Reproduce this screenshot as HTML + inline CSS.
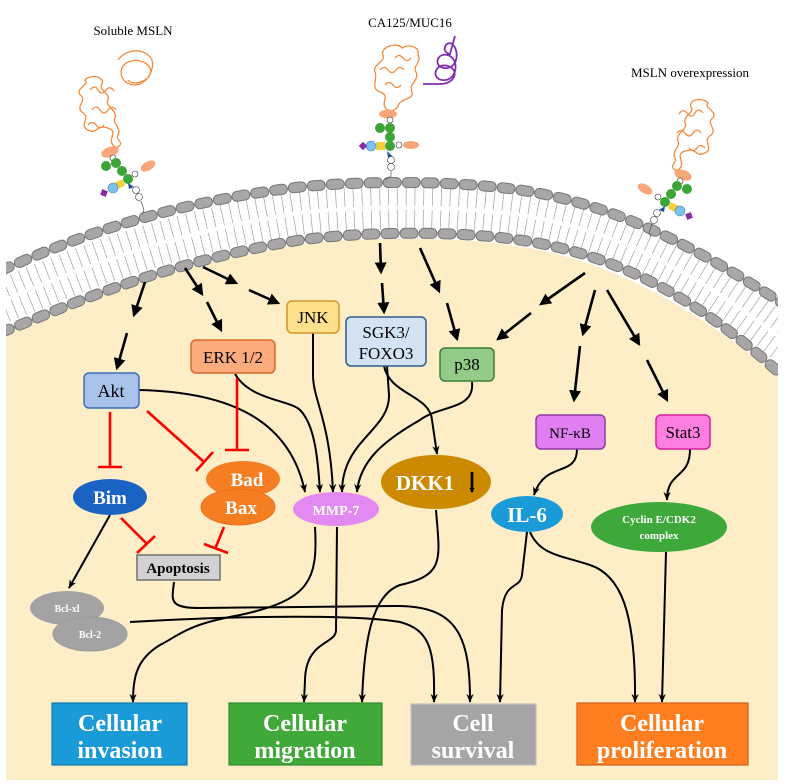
<!DOCTYPE html>
<html><head><meta charset="utf-8"><style>
html,body{margin:0;padding:0;background:#fff;}
svg{display:block;}
text{font-family:"Liberation Serif",serif;}
</style></head><body>
<svg width="795" height="784" viewBox="0 0 795 784" xmlns="http://www.w3.org/2000/svg">
<defs>
<marker id="ah" viewBox="0 0 10 10" refX="8" refY="5" markerWidth="5" markerHeight="5" orient="auto-start-reverse" markerUnits="userSpaceOnUse">
<path d="M0,0 L10,5 L0,10 Z" fill="#000"/></marker>
<marker id="ab" viewBox="0 0 10 10" refX="8" refY="5" markerWidth="12" markerHeight="12" orient="auto" markerUnits="userSpaceOnUse">
<path d="M0,0 L10,5 L0,10 Z" fill="#000"/></marker>
<marker id="as" viewBox="0 0 10 10" refX="9" refY="5" markerWidth="9" markerHeight="9" orient="auto" markerUnits="userSpaceOnUse">
<path d="M0,1 L10,5 L0,9 L3,5 Z" fill="#000"/></marker>
<clipPath id="cl"><rect x="6" y="0" width="772" height="784"/></clipPath>
</defs>

<g clip-path="url(#cl)">
<!-- cream cell -->
<path d="M2,332 C60,310 150,265 300,240 C360,232 450,230 520,240 C620,255 700,300 785,378 L785,780 L2,780 Z" fill="#fdeec8"/>
<!-- membrane band -->
<path d="M2,301 C60,278 150,236 300,213 C360,206 450,205 520,215 C620,230 700,276 785,341" fill="none" stroke="#fff" stroke-width="62"/>
<path d="M2,301 C60,278 150,236 300,213 C360,206 450,205 520,215 C620,230 700,276 785,341" fill="none" stroke="#8a8a8a" stroke-width="44" stroke-dasharray="0.7 8" opacity="0.8"/>
<path d="M2,301 C60,278 150,236 300,213 C360,206 450,205 520,215 C620,230 700,276 785,341" fill="none" stroke="#fff" stroke-width="4"/>
<path d="M2,270 C60,245 150,205 300,187 C360,181 450,180 520,190 C620,205 700,250 785,305" fill="none" stroke="#777" stroke-width="11" stroke-linecap="round" stroke-dasharray="8 11"/>
<path d="M2,270 C60,245 150,205 300,187 C360,181 450,180 520,190 C620,205 700,250 785,305" fill="none" stroke="#a8a6a6" stroke-width="9" stroke-linecap="round" stroke-dasharray="8 11"/>
<path d="M2,332 C60,310 150,265 300,240 C360,232 450,230 520,240 C620,255 700,300 785,378" fill="none" stroke="#777" stroke-width="11" stroke-linecap="round" stroke-dasharray="8 11"/>
<path d="M2,332 C60,310 150,265 300,240 C360,232 450,230 520,240 C620,255 700,300 785,378" fill="none" stroke="#a8a6a6" stroke-width="9" stroke-linecap="round" stroke-dasharray="8 11"/>
</g>

<!-- top labels -->
<text x="133" y="35" font-size="13" text-anchor="middle">Soluble MSLN</text>
<text x="410" y="27" font-size="13" text-anchor="middle">CA125/MUC16</text>
<text x="690" y="77" font-size="13" text-anchor="middle">MSLN overexpression</text>

<!-- Soluble MSLN protein -->
<g fill="none" stroke="#f58a3c" stroke-width="1.3">
<path d="M115,147 C105,140 120,132 108,128 C95,124 98,135 88,130 C78,125 92,118 82,112 C75,106 88,100 80,95 C75,88 90,85 85,80 C90,74 105,76 102,84 C98,90 110,92 108,100 C104,106 118,110 115,118 C112,124 122,128 118,135 C115,140 125,142 118,147 Z"/>
<path d="M90,90 q5,-6 8,0 q3,6 8,0 q4,-5 8,1 M92,110 q4,-6 8,0 q4,6 8,0 q4,-5 8,0 M88,125 q5,-5 8,0 q4,5 8,0"/>
<path d="M118,60 C125,50 140,48 148,55 C158,62 150,80 140,84 C128,88 118,78 122,68 C126,58 145,58 150,68 C155,78 135,88 128,80"/>
</g>
<ellipse cx="110" cy="152" rx="9" ry="5" fill="#f7a77a" transform="rotate(-20 110 152)"/>
<circle cx="113" cy="158" r="3" fill="#fff" stroke="#333" stroke-width=".6"/>
<circle cx="106" cy="166" r="5" fill="#3da538"/><circle cx="116" cy="163" r="5" fill="#3da538"/>
<circle cx="122" cy="171" r="5" fill="#3da538"/><circle cx="128" cy="179" r="5" fill="#3da538"/>
<ellipse cx="148" cy="166" rx="8" ry="4.5" fill="#f7a77a" transform="rotate(-30 148 166)"/>
<circle cx="135" cy="174" r="3" fill="#fff" stroke="#333" stroke-width=".6"/>
<rect x="115" y="181" width="9" height="7" fill="#f6cf3a" transform="rotate(-25 119 184)"/>
<circle cx="113" cy="188" r="5" fill="#7fc0e8" stroke="#3a8ac0" stroke-width=".6"/>
<rect x="101" y="190" width="6" height="6" fill="#8a2aa8" transform="rotate(20 104 193)"/>
<path d="M128,183 L134,187 L129,189 Z" fill="#1e4fa0"/>
<circle cx="136" cy="190" r="3.5" fill="#fff" stroke="#333" stroke-width=".6"/>
<circle cx="139" cy="197" r="3.5" fill="#fff" stroke="#333" stroke-width=".6"/>
<path d="M141,201 L144,210 L142,214" fill="none" stroke="#555" stroke-width=".7"/>

<!-- CA125 protein -->
<g fill="none" stroke="#f58a3c" stroke-width="1.3">
<path d="M388,110 C378,104 392,96 380,92 C370,88 378,80 375,72 C372,64 386,62 383,55 C380,46 398,42 402,48 C408,44 420,46 418,55 C422,62 412,66 416,72 C420,80 408,84 412,92 C414,100 400,98 398,106 C396,110 392,112 388,110 Z"/>
<path d="M380,70 q4,-5 8,0 q4,5 8,0 q4,-5 8,0 M385,85 q4,-5 8,0 q4,5 8,0 M395,58 q4,-5 8,0 q4,5 8,0"/>
</g>
<g fill="none" stroke="#7f2fb0" stroke-width="1.8">
<path d="M423,84 L440,84 C455,84 460,70 448,66 C436,62 430,78 442,80 C456,82 460,62 450,56 C438,50 432,66 444,68 C458,70 460,50 452,44 C446,40 440,52 450,54 L455,36"/>
</g>
<ellipse cx="388" cy="114" rx="9" ry="4.5" fill="#f7a77a"/>
<circle cx="390" cy="120" r="3" fill="#fff" stroke="#333" stroke-width=".6"/>
<circle cx="380" cy="128" r="5" fill="#3da538"/><circle cx="390" cy="128" r="5" fill="#3da538"/>
<circle cx="390" cy="137" r="5" fill="#3da538"/><circle cx="390" cy="146" r="5" fill="#3da538"/>
<rect x="376" y="142" width="9" height="8" fill="#f6cf3a"/>
<circle cx="371" cy="146" r="5" fill="#7fc0e8" stroke="#3a8ac0" stroke-width=".6"/>
<rect x="360" y="143" width="6" height="6" fill="#8a2aa8" transform="rotate(45 363 146)"/>
<circle cx="399" cy="145" r="3" fill="#fff" stroke="#333" stroke-width=".6"/>
<ellipse cx="411" cy="145" rx="8" ry="4" fill="#f7a77a"/>
<path d="M387,151 L393,157 L388,158 Z" fill="#1e4fa0"/>
<circle cx="391" cy="160" r="3.5" fill="#fff" stroke="#333" stroke-width=".6"/>
<circle cx="391" cy="167" r="3.5" fill="#fff" stroke="#333" stroke-width=".6"/>
<path d="M391,171 L391,176 L385,180" fill="none" stroke="#555" stroke-width=".7"/>

<!-- MSLN overexpression protein (mirror) -->
<g transform="translate(793,23) scale(-1,1)">
<g fill="none" stroke="#f58a3c" stroke-width="1.3">
<path d="M115,147 C105,140 120,132 108,128 C95,124 98,135 88,130 C78,125 92,118 82,112 C75,106 88,100 80,95 C75,88 90,85 85,80 C90,74 105,76 102,84 C98,90 110,92 108,100 C104,106 118,110 115,118 C112,124 122,128 118,135 C115,140 125,142 118,147 Z"/>
<path d="M90,90 q5,-6 8,0 q3,6 8,0 q4,-5 8,1 M92,110 q4,-6 8,0 q4,6 8,0 q4,-5 8,0 M88,125 q5,-5 8,0 q4,5 8,0"/>
</g>
<ellipse cx="110" cy="152" rx="9" ry="5" fill="#f7a77a" transform="rotate(-20 110 152)"/>
<circle cx="113" cy="158" r="3" fill="#fff" stroke="#333" stroke-width=".6"/>
<circle cx="106" cy="166" r="5" fill="#3da538"/><circle cx="116" cy="163" r="5" fill="#3da538"/>
<circle cx="122" cy="171" r="5" fill="#3da538"/><circle cx="128" cy="179" r="5" fill="#3da538"/>
<ellipse cx="148" cy="166" rx="8" ry="4.5" fill="#f7a77a" transform="rotate(-30 148 166)"/>
<circle cx="135" cy="174" r="3" fill="#fff" stroke="#333" stroke-width=".6"/>
<rect x="115" y="181" width="9" height="7" fill="#f6cf3a" transform="rotate(-25 119 184)"/>
<circle cx="113" cy="188" r="5" fill="#7fc0e8" stroke="#3a8ac0" stroke-width=".6"/>
<rect x="101" y="190" width="6" height="6" fill="#8a2aa8" transform="rotate(20 104 193)"/>
<path d="M128,183 L134,187 L129,189 Z" fill="#1e4fa0"/>
<circle cx="136" cy="190" r="3.5" fill="#fff" stroke="#333" stroke-width=".6"/>
<circle cx="139" cy="197" r="3.5" fill="#fff" stroke="#333" stroke-width=".6"/>
<path d="M141,201 L144,210 L142,214" fill="none" stroke="#555" stroke-width=".7"/>
</g>

<!-- membrane arrows -->
<g stroke="#000" stroke-width="2.6" fill="none" marker-end="url(#ab)">
<path d="M145,282 L134,315"/><path d="M127,333 L117,368"/>
<path d="M185,268 L202,294"/><path d="M207,302 L221,330"/>
<path d="M203,267 L236,283"/><path d="M249,290 L278,303"/>
<path d="M380,243 L381,272"/><path d="M382,283 L384,312"/>
<path d="M420,248 L439,291"/><path d="M447,303 L457,339"/>
<path d="M585,273 L541,304"/><path d="M531,313 L498,339"/>
<path d="M595,290 L583,334"/><path d="M580,346 L574,400"/>
<path d="M607,290 L639,344"/><path d="M647,360 L667,400"/>
</g>

<!-- connectors -->
<g stroke="#000" stroke-width="2" fill="none" marker-end="url(#as)">
<path d="M139,390 C230,392 290,420 305,492"/>
<path d="M235,374 C250,400 290,400 300,410 C315,425 318,460 320,492"/>
<path d="M313,333 L313,375 C313,400 330,420 333,492"/>
<path d="M387,366 L389,395 C390,430 342,440 342,492"/>
<path d="M384,366 C390,395 430,395 432,420 L437,454"/>
<path d="M472,382 C475,410 440,405 420,420 C385,440 360,460 357,492"/>
<path d="M577,449 C577,478 545,460 534,495"/>
<path d="M690,449 C690,480 667,470 667,500"/>
<path d="M315,527 C318,580 310,600 240,615 C185,625 180,635 160,645 C135,660 133,680 133,702"/>
<path d="M337,527 L336,630 C336,645 306,640 305,680 L304,702"/>
<path d="M436,510 C440,560 445,575 400,585 C372,595 364,640 362,702"/>
<path d="M174,582 C172,600 168,608 200,608 L395,606 C460,605 470,640 470,702"/>
<path d="M130,622 C250,615 360,615 400,622 C430,630 435,650 434,702"/>
<path d="M527,532 L522,575 C520,590 505,580 502,610 L500,702"/>
<path d="M530,532 C540,555 560,555 590,565 C620,575 636,610 635,702"/>
<path d="M666,552 L662,702"/>
<path d="M110,515 L69,588"/>
</g>

<!-- inhibitions -->
<g stroke="#ff0000" stroke-width="2.6" fill="none">
<path d="M110,412 L110,467 M98,467 L122,467"/>
<path d="M147,411 L204,462 M196,471 L213,452"/>
<path d="M237,378 L237,450 M225,450 L249,450"/>
<path d="M121,518 L147,544 M137,553 L155,536"/>
<path d="M224,527 L215,549 M204,544 L228,553"/>
</g>

<!-- boxes -->
<g font-size="17">
<rect x="287" y="301" width="52" height="32" rx="5" fill="#fde08b" stroke="#cf9a2a" stroke-width="1.5"/>
<text x="313" y="323" text-anchor="middle">JNK</text>
<rect x="346" y="317" width="80" height="49" rx="5" fill="#d3e3f3" stroke="#2e5b92" stroke-width="1.5"/>
<text x="386" y="338" text-anchor="middle">SGK3/</text><text x="386" y="359" text-anchor="middle">FOXO3</text>
<rect x="191" y="340" width="84" height="33" rx="5" fill="#fcab7d" stroke="#d8692c" stroke-width="1.5"/>
<text x="233" y="363" text-anchor="middle">ERK 1/2</text>
<rect x="440" y="348" width="54" height="33" rx="5" fill="#93cc88" stroke="#3c7f34" stroke-width="1.5"/>
<text x="467" y="370" text-anchor="middle">p38</text>
<rect x="84" y="373" width="55" height="35" rx="5" fill="#a9c2ea" stroke="#3a70b8" stroke-width="1.5"/>
<text x="111" y="397" text-anchor="middle" font-size="18">Akt</text>
<rect x="536" y="415" width="69" height="34" rx="5" fill="#e07ff2" stroke="#8d3aa3" stroke-width="1.5"/>
<text x="570" y="438" text-anchor="middle" font-size="15">NF-κB</text>
<rect x="656" y="415" width="54" height="34" rx="5" fill="#ff7ee0" stroke="#d61f9d" stroke-width="1.5"/>
<text x="683" y="438" text-anchor="middle">Stat3</text>
</g>

<!-- ellipses -->
<ellipse cx="110" cy="497" rx="37" ry="18" fill="#1b63c2"/>
<text x="110" y="504" text-anchor="middle" font-size="19" font-weight="bold" fill="#fff">Bim</text>
<ellipse cx="243" cy="479" rx="37" ry="18" fill="#f67e22"/>
<ellipse cx="238" cy="507" rx="37" ry="18" fill="#f67e22" stroke="#e8701a" stroke-width="1"/>
<text x="247" y="486" text-anchor="middle" font-size="19" font-weight="bold" fill="#fff">Bad</text>
<text x="241" y="514" text-anchor="middle" font-size="19" font-weight="bold" fill="#fff">Bax</text>
<ellipse cx="336" cy="509" rx="43" ry="17" fill="#e38af2"/>
<text x="336" y="515" text-anchor="middle" font-size="14" font-weight="bold" fill="#fff">MMP-7</text>
<ellipse cx="436" cy="482" rx="55" ry="27" fill="#cc8a03"/>
<text x="425" y="490" text-anchor="middle" font-size="21" font-weight="bold" fill="#fff">DKK1</text>
<path d="M472,472 L472,492" stroke="#000" stroke-width="2.6" marker-end="url(#ah)"/>
<ellipse cx="527" cy="514" rx="36" ry="18" fill="#1a9bd8"/>
<text x="527" y="522" text-anchor="middle" font-size="21" font-weight="bold" fill="#fff">IL-6</text>
<ellipse cx="659" cy="527" rx="68" ry="25" fill="#3fa83a"/>
<text x="659" y="523" text-anchor="middle" font-size="11" font-weight="bold" fill="#fff">Cyclin E/CDK2</text>
<text x="659" y="539" text-anchor="middle" font-size="11" font-weight="bold" fill="#fff">complex</text>
<rect x="137" y="555" width="83" height="25" fill="#d2d2d2" stroke="#707070" stroke-width="1.5"/>
<text x="178" y="573" text-anchor="middle" font-size="15" font-weight="bold">Apoptosis</text>
<ellipse cx="67" cy="608" rx="37" ry="17" fill="#a3a3a3"/>
<ellipse cx="90" cy="634" rx="37" ry="17" fill="#a3a3a3" stroke="#9a9a9a"/>
<text x="67" y="612" text-anchor="middle" font-size="10" font-weight="bold" fill="#fff">Bcl-xl</text>
<text x="90" y="638" text-anchor="middle" font-size="10" font-weight="bold" fill="#fff">Bcl-2</text>

<!-- outcome boxes -->
<g font-size="24" font-weight="bold" fill="#fff" text-anchor="middle">
<rect x="52" y="703" width="135" height="62" fill="#1a9ad6" stroke="#1478b0" stroke-width="1.2"/>
<text x="120" y="731">Cellular</text><text x="120" y="758">invasion</text>
<rect x="229" y="703" width="153" height="62" fill="#40a93a" stroke="#2f8a2a" stroke-width="1.2"/>
<text x="305" y="731">Cellular</text><text x="305" y="758">migration</text>
<rect x="411" y="704" width="125" height="61" fill="#a5a5a5" stroke="#c0c0c0" stroke-width="1.2"/>
<text x="473" y="731">Cell</text><text x="473" y="758">survival</text>
<rect x="577" y="703" width="171" height="62" fill="#ff7f20" stroke="#d0601a" stroke-width="1.2"/>
<text x="662" y="731">Cellular</text><text x="662" y="758">proliferation</text>
</g>
</svg>
</body></html>
